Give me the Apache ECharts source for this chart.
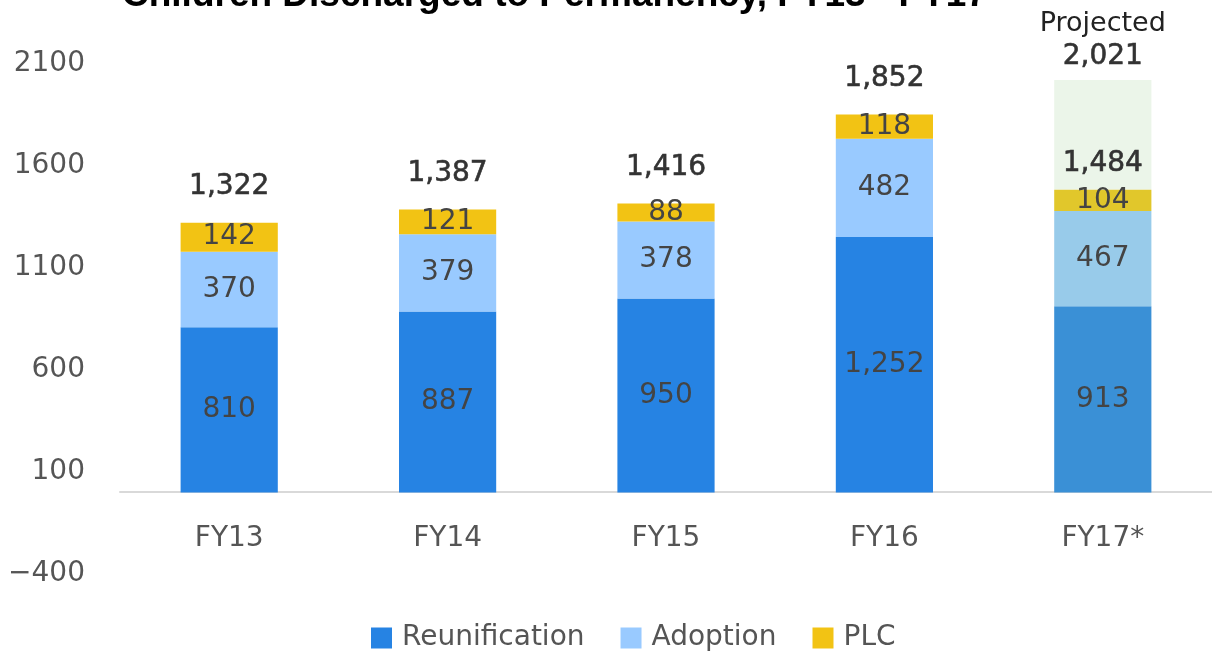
<!DOCTYPE html>
<html>
<head>
<meta charset="utf-8">
<title>Children Discharged to Permanency</title>
<script src="https://cdn.jsdelivr.net/npm/echarts@6/dist/echarts.min.js"></script>
<style>
    html, body { margin: 0; padding: 0; background: #fff; }
    #chart { width: 1212px; height: 652px; }
</style>
</head>
<body>
<div id="chart"></div>
<script>
// data
var years = ["FY13", "FY14", "FY15", "FY16", "FY17*"];
var reunification = [810, 887, 950, 1252, 913];
var adoption = [370, 379, 378, 482, 467];
var plc = [142, 121, 88, 118, 104];
var projectedTotal = 2021;

var fnt = "DejaVu Sans";
var fmt = function(n) { return n.toLocaleString("en-US"); };

// totals of the three parts
var totals = years.map(function(y, i) {
    return reunification[i] + adoption[i] + plc[i];
});

// FY17 is drawn with softer colours
function withLast(arr, color) {
    return arr.map(function(v, i) {
        if (i === arr.length - 1) return { value: v, itemStyle: { color: color } };
        return v;
    });
}

var segLabel = {
    show: true,
    position: "inside",
    fontFamily: fnt,
    fontSize: 28,
    color: "#444",
    formatter: function(p) { return fmt(p.value); }
};

var myChart = echarts.init(document.getElementById("chart"));

myChart.setOption({
    animation: false,
    title: {
        text: "Children Discharged to Permanency, FY13 - FY17",
        left: 117,
        top: -28,
        textStyle: {
            fontFamily: "Liberation Sans",
            fontWeight: "bold",
            fontSize: 37,
            color: "#000"
        }
    },
    legend: {
        data: ["Reunification", "Adoption", "PLC"],
        bottom: -5,
        left: 366,
        itemWidth: 21,
        itemHeight: 21,
        itemGap: 36,
        icon: "rect",
        textStyle: { fontFamily: fnt, fontSize: 28, color: "#555", padding: [0, 0, 0, 5] }
    },
    grid: { left: 120, right: -19, top: 64, bottom: 78, containLabel: false },
    xAxis: {
        type: "category",
        data: years,
        // sit the axis on the zero line, labels go with it
        offset: -82,
        axisLine: { onZero: false, lineStyle: { color: "#d9d9d9", width: 2 } },
        axisTick: { show: false },
        axisLabel: { margin: 33, fontFamily: fnt, fontSize: 28, color: "#555" }
    },
    yAxis: {
        type: "value",
        min: -400,
        max: 2100,
        interval: 500,
        splitLine: { show: false },
        axisLine: { show: false },
        axisTick: { show: false },
        axisLabel: {
            margin: 35,
            fontFamily: fnt,
            fontSize: 28,
            color: "#555",
            formatter: function(v) { return v < 0 ? "\u2212" + Math.abs(v) : String(v); }
        }
    },
    series: [
        {
            name: "Reunification",
            type: "bar",
            stack: "all",
            barWidth: "44.5%",
            z: 3,
            itemStyle: { color: "#2683e3" },
            label: segLabel,
            data: withLast(reunification, "#3a90d6")
        },
        {
            name: "Adoption",
            type: "bar",
            stack: "all",
            z: 3,
            itemStyle: { color: "#99caff" },
            label: segLabel,
            data: withLast(adoption, "#98cbea")
        },
        {
            name: "PLC",
            type: "bar",
            stack: "all",
            z: 3,
            itemStyle: { color: "#f2c314" },
            label: segLabel,
            data: withLast(plc, "#e1c72b")
        },
        {
            // zero-height bar that only carries the total label
            name: "Total",
            type: "bar",
            stack: "all",
            z: 4,
            itemStyle: { color: "transparent" },
            label: {
                show: true,
                position: "top",
                distance: 22,
                fontFamily: fnt,
                fontSize: 28,
                color: "#333",
                textBorderColor: "#333",
                textBorderWidth: 0.6,
                formatter: function(p) { return fmt(totals[p.dataIndex]); }
            },
            data: totals.map(function(t, i) {
                if (i === totals.length - 1) return { value: 0, label: { distance: 12 } };
                return 0;
            })
        },
        {
            name: "Projected",
            type: "bar",
            stack: "all",
            z: 1,
            itemStyle: { color: "#ebf5e9" },
            label: {
                show: true,
                position: "top",
                distance: 7,
                formatter: function() { return "{a|Projected}\n{b|" + fmt(projectedTotal) + "}"; },
                rich: {
                    a: { fontFamily: fnt, fontSize: 27, color: "#222", lineHeight: 33 },
                    b: {
                        fontFamily: fnt, fontSize: 28, color: "#333", lineHeight: 33,
                        textBorderColor: "#333", textBorderWidth: 0.6
                    }
                }
            },
            data: years.map(function(y, i) {
                return i === years.length - 1 ? projectedTotal - totals[i] : null;
            })
        }
    ]
});
</script>
</body>
</html>
